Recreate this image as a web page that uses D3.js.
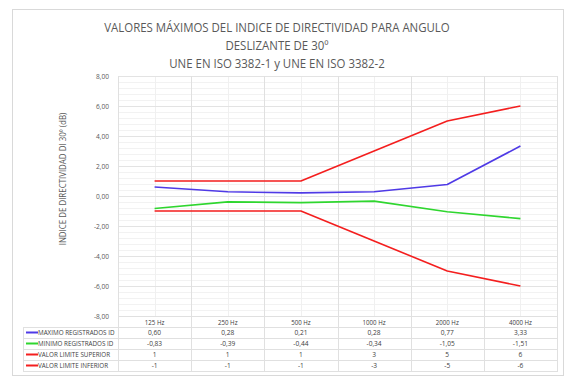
<!DOCTYPE html>
<html>
<head>
<meta charset="utf-8">
<script src="https://cdn.jsdelivr.net/npm/d3@7"></script>
<style>
  body { margin: 0; background: #fff; }
  svg { font-family: "Open Sans", "Noto Sans", sans-serif; }
</style>
</head>
<body>
<div id="chart"></div>
<script>
// Data
let categories = ["125 Hz", "250 Hz", "500 Hz", "1000 Hz", "2000 Hz", "4000 Hz"];
let maximo = [0.60, 0.28, 0.21, 0.28, 0.77, 3.33];
let minimo = [-0.83, -0.39, -0.44, -0.34, -1.05, -1.51];
let limSuperior = [1, 1, 1, 3, 5, 6];
let limInferior = [-1, -1, -1, -3, -5, -6];
let yTicks = [-8, -6, -4, -2, 0, 2, 4, 6, 8];

let series = [
    {name: "MAXIMO REGISTRADOS ID", values: maximo, color: "#4f3ae6", dec: 2},
    {name: "MINIMO REGISTRADOS ID", values: minimo, color: "#2fd62f", dec: 2},
    {name: "VALOR LIMITE SUPERIOR", values: limSuperior, color: "#f41e1e", dec: 0},
    {name: "VALOR LIMITE INFERIOR", values: limInferior, color: "#f41e1e", dec: 0}
];

let W = 567, H = 387;
let svg = d3.select("#chart").append("svg").attr("width", W).attr("height", H);

// narrow text (Calibri-like width)
function narrowText(g, x0, y0, sx, txt) {
    return g.append("text")
        .attr("transform", `translate(${x0},${y0}) scale(${sx},1)`)
        .text(txt);
}

// outer frame
svg.append("rect").attr("x", 12.5).attr("y", 9.5).attr("width", 551).attr("height", 366)
    .attr("fill", "#fff").attr("stroke", "#d9d9d9");

// Title
let titleLines = ["VALORES MÁXIMOS DEL INDICE DE DIRECTIVIDAD PARA ANGULO", "DESLIZANTE DE 30º", "UNE EN ISO 3382-1 y UNE EN ISO 3382-2"];
let tg = svg.append("g").attr("text-anchor", "middle").attr("font-size", 12.8).attr("fill", "#595959");
titleLines.forEach((t, i) => narrowText(tg, 277, 32 + i * 17.8, 0.895, t));

let x = d3.scaleBand().domain(categories).range([118, 557]);
let y = d3.scaleLinear().domain([-8, 8]).range([316, 76]);

// minor grid
let minor = d3.range(-8, 8.01, 0.4);
svg.append("g").selectAll("line").data(minor).join("line")
    .attr("x1", 118).attr("x2", 557)
    .attr("y1", d => Math.round(y(d)) + 0.5).attr("y2", d => Math.round(y(d)) + 0.5)
    .attr("stroke", "#f2f2f2");
svg.append("g").selectAll("line").data(categories).join("line")
    .attr("x1", d => Math.round(x(d) + x.bandwidth() / 2) + 0.5)
    .attr("x2", d => Math.round(x(d) + x.bandwidth() / 2) + 0.5)
    .attr("y1", 76).attr("y2", 316)
    .attr("stroke", "#f0f0f0");

// major grid
svg.append("g").selectAll("line").data(yTicks).join("line")
    .attr("x1", 118).attr("x2", 557)
    .attr("y1", d => Math.round(y(d)) + 0.5).attr("y2", d => Math.round(y(d)) + 0.5)
    .attr("stroke", "#e3e3e3");

let bounds = categories.map(c => x(c)).concat([x.range()[1]]);
svg.append("g").selectAll("line").data(bounds).join("line")
    .attr("x1", d => Math.round(d) + 0.5).attr("x2", d => Math.round(d) + 0.5)
    .attr("y1", 76).attr("y2", 372)
    .attr("stroke", "#e0e0e0");

// Y axis labels
let fmt = (v, dec) => v.toFixed(dec).replace(".", ",");
let yl = svg.append("g").attr("text-anchor", "end").attr("font-size", 7.5).attr("fill", "#595959");
yTicks.forEach(d => narrowText(yl, 109, y(d) + 2.5, 0.88, fmt(d, 2)));

svg.append("text")
    .attr("transform", "translate(66,179) rotate(-90) scale(0.88,1)")
    .attr("text-anchor", "middle").attr("font-size", 9).attr("fill", "#595959")
    .text("INDICE DE DIRECTIVIDAD DI 30º (dB)");

// Lines
let line = d3.line()
    .x((d, i) => x(categories[i]) + x.bandwidth() / 2)
    .y(d => y(d));
svg.append("g").selectAll("path").data(series).join("path")
    .attr("d", d => line(d.values))
    .attr("fill", "none").attr("stroke", d => d.color).attr("stroke-width", 1.6)
    .attr("stroke-linejoin", "round");

// Data table
let rowH = 11;
let tableTop = 316;
// header row labels
let hg = svg.append("g").attr("text-anchor", "middle").attr("font-size", 7).attr("fill", "#404040");
categories.forEach(c => narrowText(hg, x(c) + x.bandwidth() / 2, tableTop + 8.5, 0.88, c));

// horizontal table lines
let rowLines = d3.range(1, series.length + 2).map(i => tableTop + i * rowH);
svg.append("g").selectAll("line").data(rowLines).join("line")
    .attr("x1", 23).attr("x2", 557)
    .attr("y1", d => d + 0.5).attr("y2", d => d + 0.5)
    .attr("stroke", "#e0e0e0");
svg.append("line").attr("x1", 118).attr("x2", 557).attr("y1", tableTop + 0.5).attr("y2", tableTop + 0.5)
    .attr("stroke", "#e0e0e0");
svg.append("line").attr("x1", 23.5).attr("x2", 23.5).attr("y1", tableTop + rowH).attr("y2", tableTop + rowH * 5)
    .attr("stroke", "#e0e0e0");

let rows = svg.append("g").selectAll("g").data(series).join("g")
    .attr("transform", (d, i) => `translate(0,${tableTop + rowH * (i + 1)})`)
    .attr("font-size", 7.5).attr("fill", "#404040");
rows.append("line").attr("x1", 26).attr("x2", 38).attr("y1", 5.5).attr("y2", 5.5)
    .attr("stroke", d => d.color).attr("stroke-width", 2);
rows.each(function(s) {
    let r = d3.select(this);
    narrowText(r, 38, 8.3, 0.84, s.name);
    let vg = r.append("g").attr("text-anchor", "middle");
    s.values.forEach((v, i) => narrowText(vg, x(categories[i]) + x.bandwidth() / 2, 8.3, 0.88, fmt(v, s.dec)));
});
</script>
</body>
</html>
